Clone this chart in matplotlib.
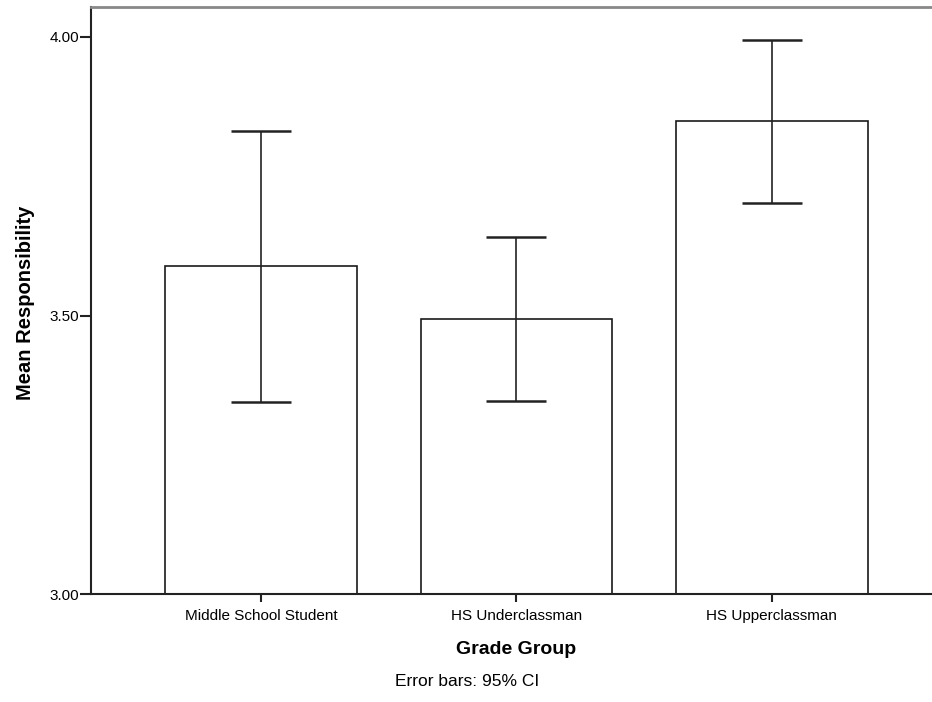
import matplotlib
matplotlib.use("Agg")
import matplotlib.pyplot as plt
import numpy as np

plt.rcParams['font.family'] = ['Liberation Sans', 'DejaVu Sans']

categories = ["Middle School Student", "HS Underclassman", "HS Upperclassman"]
means = [3.589, 3.494, 3.849]
ci_low = [3.345, 3.346, 3.702]
ci_high = [3.831, 3.641, 3.995]
y_ticks = [3.00, 3.50, 4.00]
y_tick_labels = ["3.00", "3.50", "4.00"]

fig = plt.figure(figsize=(9.32, 7.02), dpi=100)
ax = fig.add_axes([91/932, 1 - 594/702, 1 - 91/932, (594 - 7)/702])

x = np.arange(len(categories))
ax.bar(x, np.array(means) - 3.0, bottom=3.0, width=0.75, color='white',
       edgecolor='#1a1a1a', linewidth=1.2, zorder=2)
yerr = np.array([np.array(means) - np.array(ci_low), np.array(ci_high) - np.array(means)])
ax.errorbar(x, means, yerr=yerr, fmt='none', ecolor='#222222', elinewidth=1.2,
            capsize=21.5, capthick=1.8, zorder=3)

ax.set_ylim(3.0, 4.0 + (37 - 7) / 557 * 1.0)
ax.set_xlim(-0.665, 2.627)
ax.set_yticks(y_ticks)
ax.set_yticklabels(y_tick_labels, fontsize=11)
ax.set_xticks(x)
ax.set_xticklabels(categories, fontsize=11)
ax.tick_params(axis='y', length=8, width=1.5, color='#222222', pad=0.5)
ax.tick_params(axis='x', length=6, width=1.5, color='#222222', pad=5)

ax.spines['right'].set_visible(False)
ax.spines['top'].set_color('#888888')
ax.spines['top'].set_linewidth(2)
ax.spines['left'].set_color('#222222')
ax.spines['left'].set_linewidth(1.5)
ax.spines['bottom'].set_color('#222222')
ax.spines['bottom'].set_linewidth(1.5)

ax.set_ylabel("Mean Responsibility", fontsize=14.5, fontweight='bold')
ax.yaxis.set_label_coords((35 - 91) / 841, (594 - 303) / 587)
fig.text(516/932, 1 - 649/702, "Grade Group", fontsize=14, fontweight='bold',
         ha='center', va='center')
fig.text(467/932, 1 - 681/702, "Error bars: 95% CI", fontsize=12.5, ha='center', va='center')

fig.savefig("out.png", dpi=100)
